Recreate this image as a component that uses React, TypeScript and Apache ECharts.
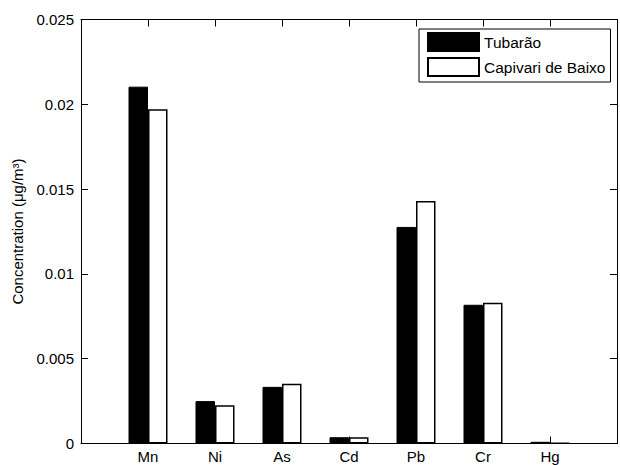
import React, { useEffect, useRef } from "react";
import * as echarts from "echarts";

const categories = ["Mn", "Ni", "As", "Cd", "Pb", "Cr", "Hg"];
const tubarao = [0.02104, 0.0025, 0.00334, 0.00037, 0.01277, 0.00818, 0.0001];
const capivari = [0.01971, 0.00226, 0.00352, 0.00037, 0.0143, 0.0083, 0.00003];
const yTicks = [0, 0.005, 0.01, 0.015, 0.02, 0.025];
const seriesNames = ["Tubarão", "Capivari de Baixo"];

const FONT = "'Liberation Sans', Arial, Helvetica, sans-serif";

export default function App() {
  const ref = useRef<HTMLDivElement>(null);
  useEffect(() => {
    if (!ref.current) return;
    const chart = echarts.init(ref.current, null, { renderer: "svg" });
    const yMax = yTicks[yTicks.length - 1];
    const yInterval = yTicks[1] - yTicks[0];
    const xMax = categories.length + 1;
    const tickStyle = { show: true, inside: true, length: 7, lineStyle: { color: "#000", width: 1 } };
    const lineStyle = { show: true, onZero: false, lineStyle: { color: "#000", width: 1 } };
    const xCommon = {
      type: "value" as const,
      min: 0,
      max: xMax,
      interval: 1,
      splitLine: { show: false },
      axisLine: lineStyle,
      axisTick: tickStyle,
    };
    const yCommon = {
      type: "value" as const,
      min: 0,
      max: yMax,
      interval: yInterval,
      splitLine: { show: false },
      axisLine: lineStyle,
      axisTick: tickStyle,
    };
    chart.setOption({
      animation: false,
      backgroundColor: "#ffffff",
      textStyle: { fontFamily: FONT },
      grid: { left: 81, top: 19.5, width: 541, height: 424 },
      legend: {
        orient: "vertical",
        left: 419,
        top: 29,
        padding: [3, 5, 5, 8],
        itemGap: 5,
        itemWidth: 51,
        itemHeight: 18,
        borderColor: "#000",
        borderWidth: 1,
        backgroundColor: "#fff",
        icon: "rect",
        textStyle: { fontSize: 15.5, color: "#000", fontFamily: FONT },
        data: seriesNames,
      },
      xAxis: [
        {
          ...xCommon,
          position: "bottom",
          axisLabel: {
            show: true,
            margin: 5,
            fontSize: 15,
            color: "#000",
            fontFamily: FONT,
            formatter: (v: number) => (v >= 1 && v <= categories.length ? categories[v - 1] : ""),
          },
        },
        {
          ...xCommon,
          position: "top",
          axisLabel: { show: false },
        },
      ],
      yAxis: [
        {
          ...yCommon,
          position: "left",
          name: "Concentration (μg/m³)",
          nameLocation: "middle",
          nameGap: 56,
          nameTextStyle: { fontSize: 15, color: "#000", fontFamily: FONT },
          axisLabel: {
            show: true,
            margin: 7,
            fontSize: 15,
            color: "#000",
            fontFamily: FONT,
            formatter: (v: number) => String(parseFloat(v.toFixed(4))),
          },
        },
        {
          ...yCommon,
          position: "right",
          axisLabel: { show: false },
        },
      ],
      series: [
        {
          name: seriesNames[0],
          type: "bar",
          xAxisIndex: 0,
          yAxisIndex: 0,
          barWidth: 19.5,
          barGap: "0%",
          itemStyle: { color: "#000", borderColor: "#000", borderWidth: 1 },
          data: tubarao.map((v, i) => [i + 1, v]),
        },
        {
          name: seriesNames[1],
          type: "bar",
          xAxisIndex: 0,
          yAxisIndex: 0,
          barWidth: 19.5,
          barGap: "0%",
          itemStyle: { color: "#fff", borderColor: "#000", borderWidth: 1.5 },
          data: capivari.map((v, i) => [i + 1, v]),
        },
      ],
    });
    return () => chart.dispose();
  }, []);
  return (
    <div
      ref={ref}
      style={{ position: "absolute", left: 0, top: 0, width: 620, height: 465 }}
    />
  );
}
